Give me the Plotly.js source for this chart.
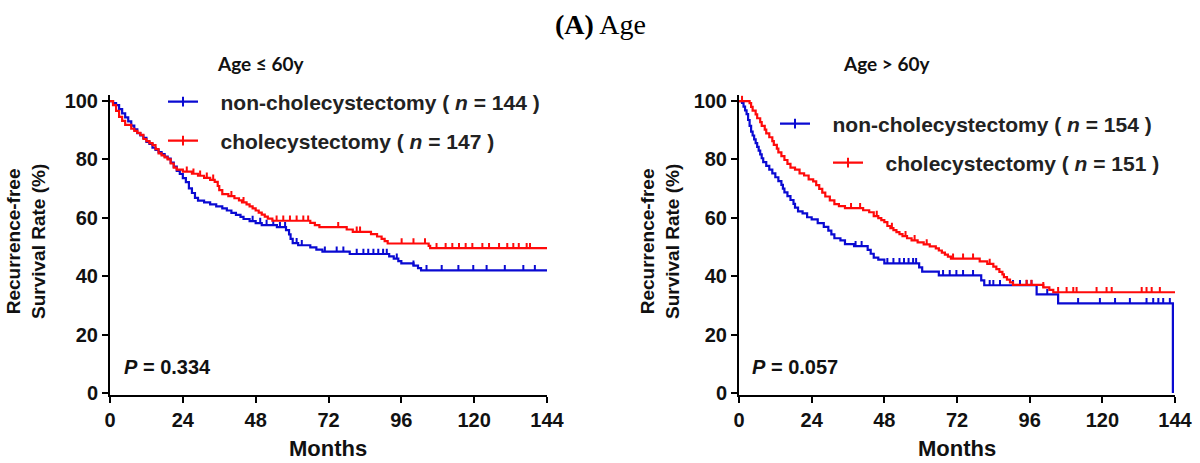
<!DOCTYPE html>
<html><head><meta charset="utf-8">
<script src="https://cdn.plot.ly/plotly-3.0.1.min.js"></script>
<style>html,body{margin:0;padding:0;background:#fff}</style>
</head><body>
<div id="chart" style="width:1200px;height:463px"></div>
<script>
// ---------- data ----------
const monthTicks = [0, 24, 48, 72, 96, 120, 144];
const rateTicks = [0, 20, 40, 60, 80, 100];

// Age <= 60y, non-cholecystectomy (n = 144)
const youngNonTime = [0,1,2,3,4,5,6,7,8,9,10,11,12,13,14,15,16,17,18,19,20,21,22,23,24,25,26,27,28,29,31,33,35,37,38.5,40,41.5,43,44,46,48,50,55,58,59,59.5,60.2,62,66,68,70,79,92,93.5,95,96,100,101.5,102.5,144];
const youngNonSurv = [100,99.3,98.6,97.2,95.8,94.4,93.0,91.6,90.3,89.0,88.2,87.4,86.0,85.3,84.0,83.3,82.5,81.8,81.0,80.3,78.9,77.5,76.1,75.0,73.6,72.2,70.1,68.5,66.8,65.9,65.3,64.6,63.9,63.2,62.5,61.7,61.0,60.3,59.6,58.9,58.2,57.5,56.8,55.8,54.3,52.8,51.3,50.6,49.9,49.1,48.4,47.6,46.8,46.0,45.2,44.4,43.6,42.8,42.0,42.0];
const youngNonCensor = [47,49.5,51.6,53.8,56,57.7,61.5,63.2,70.8,74.7,76.9,81.3,83.5,85.1,86.8,88.4,90,91.2,94.5,100,104.3,109.3,114.8,119.7,124.1,130.1,136.2,140];

// Age <= 60y, cholecystectomy (n = 147)
const youngCholTime = [0,1,2,3,4,5,7,8,9,10,11,12,13,14,15,16,17,18,19,20,21,22,24,27,29,31,33,34.5,35.5,36,37,39,41,42.5,43.5,45,46,47,48,49,50,51,52,53.5,66,67.5,69,78,80,86,88,89.5,90.5,91.5,105,105.5,144];
const youngCholSurv = [100,98.6,96.6,94.6,93.2,91.8,90.5,89.8,89.1,88.4,87.0,86.3,85.6,84.9,83.5,82.1,81.4,80.7,80.0,78.6,77.2,76.5,75.8,75.1,74.4,73.7,73.0,72.3,70.9,69.5,68.1,67.4,66.7,66.0,65.3,64.6,63.9,63.2,62.5,61.8,61.1,60.4,59.7,59.0,58.3,57.5,56.8,56.0,55.2,54.4,53.6,52.8,52.0,51.2,50.4,49.6,49.6];
const youngCholCensor = [25.3,27.5,29.7,31.9,34,40,44,54.9,57.1,59.3,61.5,63.7,65.3,75.2,81.3,82.4,96.1,100,103.8,107.6,110.6,112.8,115,117.2,119.4,122.7,124.9,128.2,130.9,132.9,134.7,137.3,138.4];

// Age > 60y, non-cholecystectomy (n = 154)
const oldNonTime = [0,1,1.5,2,2.5,3,3.5,4,4.5,5,5.5,6,6.5,7,7.5,8,9,10,11,12,13,14,14.5,15,16,17,18,18.5,19.5,21,22.5,24,26,28,29.5,30.5,31.5,33.5,35,38,42.5,43.5,44.5,46,48,59.5,60.5,66,80,81,98.3,105.4,143.3];
const oldNonSurv = [100,99.4,98.1,96.8,95.5,93.5,91.5,89.5,88.2,86.9,85.6,84.3,83.0,81.7,80.4,79.1,77.8,76.5,75.2,73.9,72.6,71.3,70.0,68.7,67.4,66.1,64.8,63.5,62.2,61.5,60.2,59.5,58.2,56.9,55.6,54.3,53.0,52.3,51.0,50.3,49.0,47.7,46.4,45.7,44.4,43.0,41.6,40.3,38.6,36.9,33.8,30.7,0];
const oldNonCensor = [38.5,40.5,49,51,53,54.5,56,57.5,58.5,67.4,69.6,71.8,74,77.3,82.8,84,86.2,90.5,92.8,95,96.6,101.8,112,119.2,124.2,129.1,134.6,136.8,138.5,140.1,142.3];

// Age > 60y, cholecystectomy (n = 151)
const oldCholTime = [0,3.5,4,4.5,5.5,6,7,7.5,8.5,9,10,11,11.5,12.5,13,14,15,16,17,18.5,20,21.5,23,24.5,25.5,26.5,27.5,28.5,30,31.5,33,35,41,43,44.5,46,47,48,49,50,51,52,53,54,55.5,57,59,61,63,65,66,67,68,69,70,79.5,82,84,85,86,87,87.5,88.5,89.5,90.5,100.5,102.5,103.8,144];
const oldCholSurv = [100,99.3,98.0,96.7,95.4,94.1,92.8,91.5,90.2,88.9,87.6,86.3,85.0,83.7,82.4,81.1,79.8,78.5,77.2,76.5,75.2,74.5,73.2,72.5,71.2,69.9,68.6,67.3,66.0,64.7,64.0,63.3,62.6,61.9,60.6,59.9,59.2,58.5,57.2,56.5,55.8,55.1,54.4,53.7,53.0,52.3,51.6,50.9,50.2,49.5,48.8,48.1,47.4,46.7,46.0,45.1,44.2,43.3,42.4,41.5,40.6,39.7,38.8,37.9,37.0,36.2,35.3,34.5,34.5];
const oldCholCensor = [1,37,40,45.5,50.5,55,58,62,70.7,74,77.3,82.8,95,96.6,100.5,105.4,108.2,110.4,111.5,118.1,121.4,123.1,133,134.6,136.3,139];

const legendNames = [
  'non-cholecystectomy ( <i>n</i> = 144 )',
  'cholecystectomy ( <i>n</i> = 147 )',
  'non-cholecystectomy ( <i>n</i> = 154 )',
  'cholecystectomy ( <i>n</i> = 151 )'
];
const panelTitles = ['<b>Age ≤ 60y</b>', '<b>Age &gt; 60y</b>'];
const pValues = ['0.334', '0.057'];

// ---------- styling ----------
const BLUE = '#0a0ad2';
const RED = '#ff0a0a';
const SANS = 'Liberation Sans, Arial, sans-serif';
const NB = '\u00a0\u00a0\u00a0';

// KM value at a censoring time
function survAt(times, surv, t) {
  let v = surv[0];
  for (let i = 0; i < times.length; i++) { if (times[i] <= t) v = surv[i]; }
  return v;
}

function stepTrace(t, s, color, xa, ya) {
  return { x: t, y: s, xaxis: xa, yaxis: ya, type: 'scatter', mode: 'lines',
    line: { shape: 'hv', color: color, width: 2.2 }, showlegend: false, hoverinfo: 'skip' };
}
function censorTrace(c, t, s, color, xa, ya) {
  return { x: c, y: c.map(v => survAt(t, s, v)), xaxis: xa, yaxis: ya, type: 'scatter', mode: 'markers',
    marker: { size: 1, opacity: 0, color: color },
    error_y: { type: 'constant', value: 1.8, valueminus: 0, symmetric: false, width: 0, thickness: 2, color: color },
    showlegend: false, hoverinfo: 'skip' };
}
function legendTrace(name, color, leg, xa, ya) {
  return { x: [null], y: [null], xaxis: xa, yaxis: ya, type: 'scatter', mode: 'lines+markers',
    name: NB + name, legend: leg, showlegend: true,
    line: { color: color, width: 2.2 },
    marker: { symbol: 'line-ns-open', size: 7, color: color, line: { color: color, width: 2 } } };
}

const data = [
  stepTrace(youngNonTime, youngNonSurv, BLUE, 'x', 'y'),
  censorTrace(youngNonCensor, youngNonTime, youngNonSurv, BLUE, 'x', 'y'),
  stepTrace(youngCholTime, youngCholSurv, RED, 'x', 'y'),
  censorTrace(youngCholCensor, youngCholTime, youngCholSurv, RED, 'x', 'y'),
  stepTrace(oldNonTime, oldNonSurv, BLUE, 'x2', 'y2'),
  censorTrace(oldNonCensor, oldNonTime, oldNonSurv, BLUE, 'x2', 'y2'),
  stepTrace(oldCholTime, oldCholSurv, RED, 'x2', 'y2'),
  censorTrace(oldCholCensor, oldCholTime, oldCholSurv, RED, 'x2', 'y2'),
  legendTrace(legendNames[0], BLUE, 'legend', 'x', 'y'),
  legendTrace(legendNames[1], RED, 'legend2', 'x', 'y'),
  legendTrace(legendNames[2], BLUE, 'legend3', 'x2', 'y2'),
  legendTrace(legendNames[3], RED, 'legend4', 'x2', 'y2')
];

const W = 1200, H = 463;
const px = v => v / W, py = v => 1 - v / H;

function xAxis(domain, anchor) {
  return { domain: domain, anchor: anchor, range: [0, 144], tickvals: monthTicks, ticktext: monthTicks.map(String),
    showline: true, linecolor: '#000', linewidth: 2, ticks: 'outside', ticklen: 6, tickwidth: 2, tickcolor: '#000',
    showgrid: false, zeroline: false, fixedrange: true,
    tickfont: { family: SANS, size: 20, color: '#111', weight: 'bold' } };
}
function yAxis(anchor) {
  return { domain: [0.1474, 0.7944], anchor: anchor, range: [-0.6, 102], tickvals: rateTicks, ticktext: rateTicks.map(String),
    showline: true, linecolor: '#000', linewidth: 2, ticks: 'outside', ticklen: 6, tickwidth: 2, tickcolor: '#000',
    showgrid: false, zeroline: false, fixedrange: true,
    tickfont: { family: SANS, size: 20, color: '#111', weight: 'bold' } };
}
function legendBox(x, y) {
  return { x: x, y: y, xanchor: 'left', yanchor: 'middle', bgcolor: 'rgba(0,0,0,0)', borderwidth: 0,
    font: { family: SANS, size: 21, color: '#222', weight: 'bold' }, itemclick: false, itemdoubleclick: false };
}

const ann = [];
ann.push({ text: '<b>(A)</b> Age', x: 0.5, y: py(25), xref: 'paper', yref: 'paper', showarrow: false,
  xanchor: 'center', yanchor: 'middle', font: { family: 'Liberation Serif, serif', size: 28, color: '#000' } });
ann.push({ text: panelTitles[0], x: px(260), y: py(63), xref: 'paper', yref: 'paper', showarrow: false,
  xanchor: 'center', yanchor: 'middle', font: { family: 'Lato, sans-serif', size: 19, color: '#111', weight: 'bold' } });
ann.push({ text: panelTitles[1], x: px(886), y: py(63), xref: 'paper', yref: 'paper', showarrow: false,
  xanchor: 'center', yanchor: 'middle', font: { family: 'Lato, sans-serif', size: 19, color: '#111', weight: 'bold' } });
[[122, pValues[0]], [750, pValues[1]]].forEach(([xp, p]) => {
  ann.push({ text: '<b><i>P</i> = ' + p + '</b>', x: px(xp), y: py(367), xref: 'paper', yref: 'paper', showarrow: false,
    xanchor: 'left', yanchor: 'middle', font: { family: SANS, size: 20, color: '#111' } });
});
[26, 660].forEach(xp => {
  ann.push({ text: '<b>Recurrence-free<br>Survival Rate (%)</b>', x: px(xp), y: py(242), xref: 'paper', yref: 'paper',
    showarrow: false, textangle: -90, xanchor: 'center', yanchor: 'middle',
    font: { family: SANS, size: 19, color: '#111' } });
});
[328, 957].forEach(xp => {
  ann.push({ text: '<b>Months</b>', x: px(xp), y: py(448), xref: 'paper', yref: 'paper', showarrow: false,
    xanchor: 'center', yanchor: 'middle', font: { family: SANS, size: 22, color: '#111' } });
});

const layout = {
  width: W, height: H, margin: { l: 0, r: 0, t: 0, b: 0 },
  paper_bgcolor: '#fff', plot_bgcolor: '#fff', showlegend: true,
  xaxis: xAxis([110 / W, 547 / W], 'y'),
  yaxis: yAxis('x'),
  xaxis2: xAxis([739 / W, 1175 / W], 'y2'),
  yaxis2: yAxis('x2'),
  legend: legendBox(px(163), py(102)),
  legend2: legendBox(px(163), py(141)),
  legend3: legendBox(px(775), py(124)),
  legend4: legendBox(px(828), py(163)),
  annotations: ann
};

Plotly.newPlot('chart', data, layout, { displayModeBar: false, staticPlot: true });
</script>
</body></html>
